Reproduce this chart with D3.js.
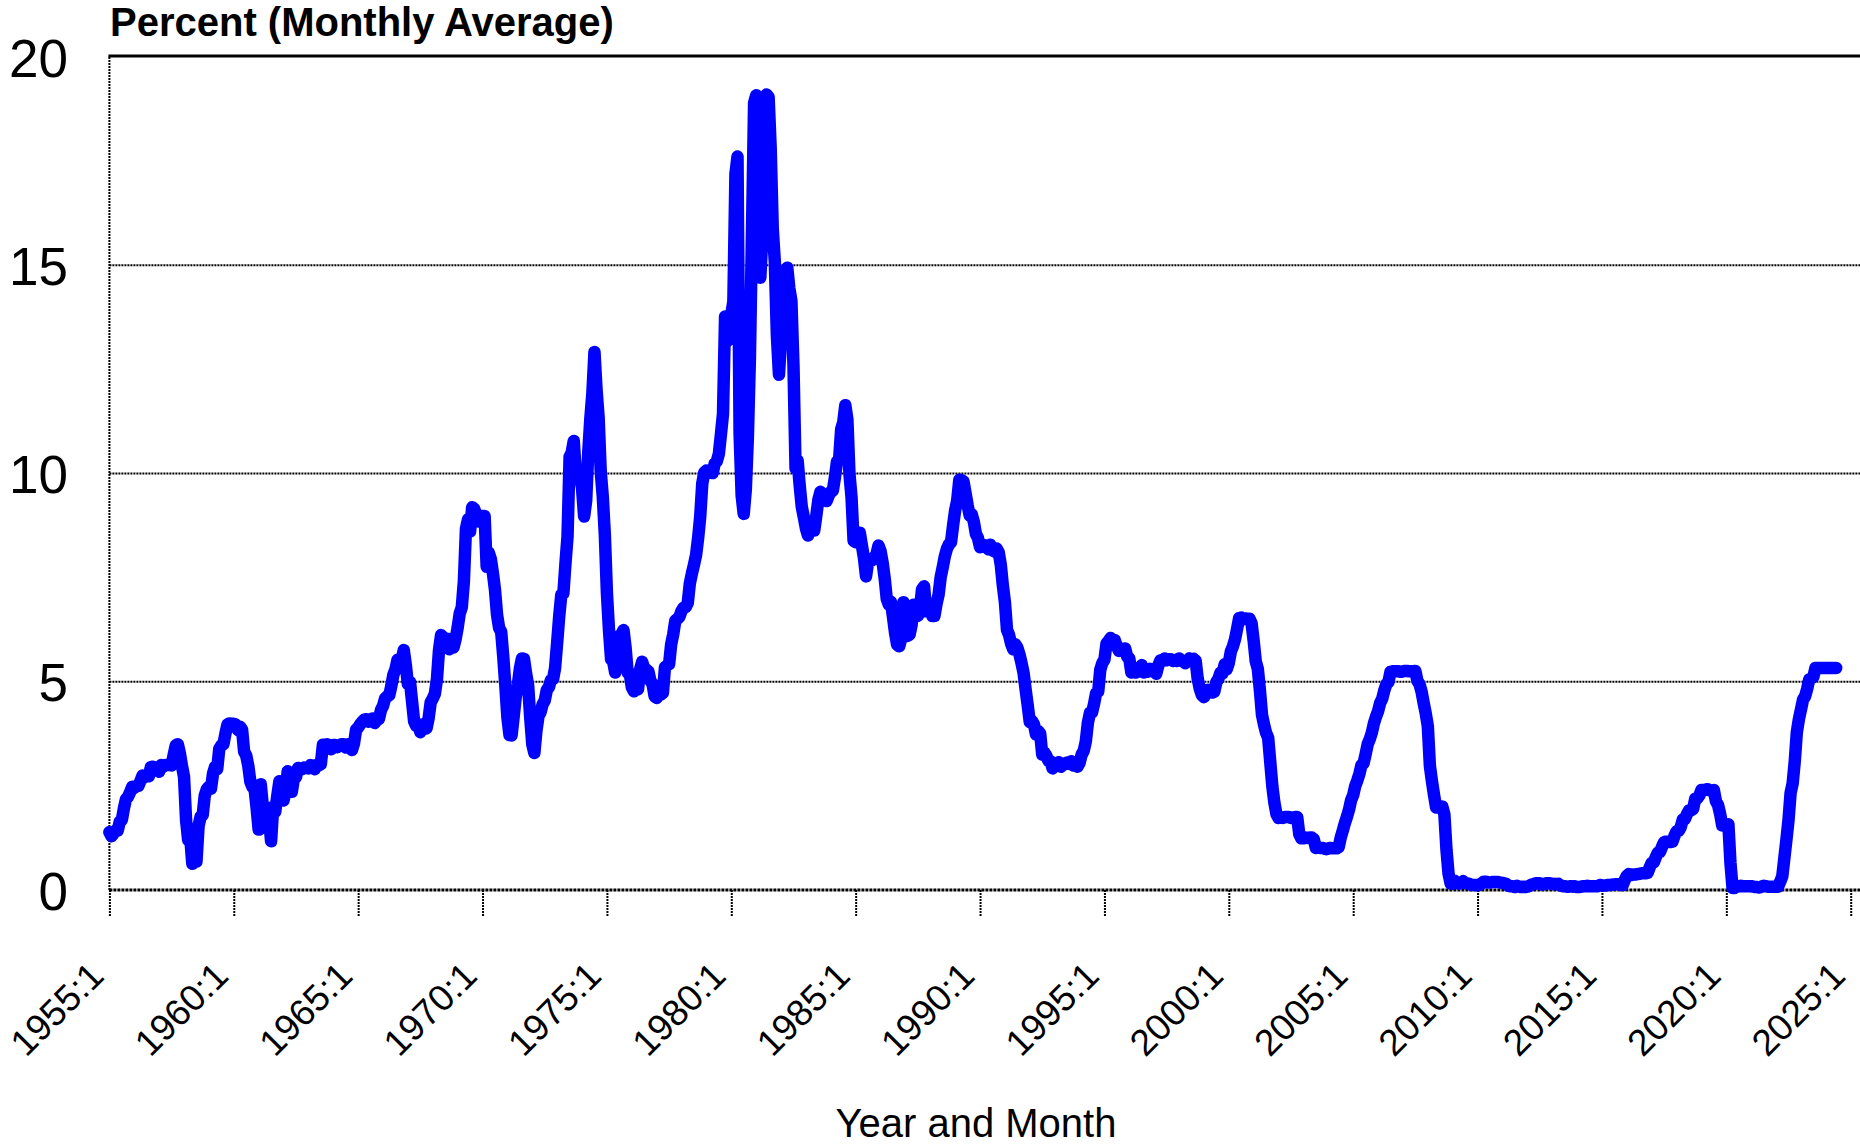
<!DOCTYPE html>
<html>
<head>
<meta charset="utf-8">
<script src="https://cdn.jsdelivr.net/npm/d3@7"></script>
<style>
  html, body { margin: 0; padding: 0; background: #fff; }
  svg { display: block; font-family: "Liberation Sans", Arial, sans-serif; }
</style>
</head>
<body>
<svg id="chart" width="1860" height="1146"></svg>
<script>
// Monthly average federal funds rate, percent, starting 1955:1
const rates1955to1959 = [
  1.39,1.29,1.35,1.43,1.43,1.64,1.68,1.96,2.18,2.24,2.35,2.48,
  2.45,2.50,2.50,2.62,2.75,2.71,2.75,2.73,2.95,2.96,2.88,2.94,
  2.84,3.00,2.96,3.00,3.00,3.00,2.99,3.24,3.47,3.50,3.28,2.98,
  2.72,1.67,1.20,1.26,0.63,0.93,0.68,1.53,1.76,1.80,2.27,2.42,
  2.48,2.43,2.80,2.96,2.90,3.39,3.47,3.50,3.76,3.98,4.00,3.99
];
const rates1960s = [
  3.99,3.97,3.84,3.92,3.85,3.32,3.23,2.98,2.60,2.47,2.44,1.98,
  1.45,2.54,2.02,1.49,1.98,1.73,1.17,2.00,1.88,2.26,2.61,2.33,
  2.15,2.37,2.85,2.78,2.36,2.68,2.71,2.93,2.90,2.90,2.94,2.93,
  2.92,3.00,2.98,2.90,3.00,2.99,3.02,3.49,3.48,3.50,3.48,3.38,
  3.48,3.48,3.43,3.47,3.50,3.50,3.42,3.50,3.45,3.36,3.52,3.85,
  3.90,3.98,4.04,4.09,4.10,4.04,4.09,4.12,4.01,4.08,4.10,4.32,
  4.42,4.60,4.65,4.67,4.90,5.17,5.30,5.53,5.40,5.53,5.76,5.40,
  4.94,5.00,4.53,4.05,3.94,3.98,3.79,3.90,3.99,3.88,4.13,4.51,
  4.60,4.71,5.05,5.76,6.12,6.07,6.03,6.03,5.78,5.91,5.82,6.02,
  6.30,6.64,6.79,7.41,8.67,8.90,8.61,9.19,9.15,9.00,8.85,8.97
];
const rates1970s = [
  8.98,8.98,7.76,8.10,7.95,7.61,7.21,6.61,6.29,6.20,5.60,4.90,
  4.14,3.72,3.71,4.16,4.63,4.91,5.31,5.56,5.55,5.20,4.91,4.14,
  3.50,3.29,3.83,4.17,4.27,4.46,4.55,4.80,4.87,5.04,5.06,5.33,
  5.94,6.58,7.09,7.12,7.84,8.49,10.40,10.50,10.78,10.01,10.03,9.95,
  9.65,8.97,9.35,10.51,11.31,11.93,12.92,12.01,11.34,10.06,9.45,8.53,
  7.13,6.24,5.54,5.49,5.22,5.55,6.10,6.14,6.24,5.82,5.22,5.20,
  4.87,4.77,4.84,4.82,5.29,5.48,5.31,5.29,5.25,5.02,4.95,4.65,
  4.61,4.68,4.69,4.73,5.35,5.39,5.42,5.90,6.14,6.47,6.51,6.56,
  6.70,6.78,6.79,6.89,7.36,7.60,7.81,8.04,8.45,8.96,9.76,10.03,
  10.07,10.06,10.09,10.01,10.24,10.29,10.47,10.94,11.43,13.77,13.18,13.78
];
const rates1980s = [
  13.82,14.13,17.19,17.61,10.98,9.47,9.03,9.61,10.87,12.81,15.85,18.90,
  19.08,15.93,14.70,15.72,18.52,19.10,19.04,17.82,15.87,15.08,13.31,12.37,
  13.22,14.78,14.68,14.94,14.45,14.15,12.59,10.12,10.31,9.71,9.20,8.95,
  8.68,8.51,8.77,8.80,8.63,8.98,9.37,9.56,9.45,9.48,9.34,9.47,
  9.56,9.59,9.91,10.29,10.32,11.06,11.23,11.64,11.30,9.99,9.43,8.38,
  8.35,8.50,8.58,8.27,7.97,7.53,7.88,7.90,7.92,7.99,8.05,8.27,
  8.14,7.86,7.48,6.99,6.85,6.92,6.56,6.17,5.89,5.85,6.04,6.91,
  6.43,6.10,6.13,6.37,6.85,6.73,6.58,6.73,7.22,7.29,6.69,6.77,
  6.83,6.58,6.58,6.87,7.09,7.51,7.75,8.01,8.19,8.30,8.35,8.76,
  9.12,9.36,9.85,9.84,9.81,9.53,9.24,8.99,9.02,8.84,8.55,8.45
];
const rates1990s = [
  8.23,8.24,8.28,8.26,8.18,8.29,8.15,8.13,8.20,8.11,7.81,7.31,
  6.91,6.25,6.12,5.91,5.78,5.90,5.82,5.66,5.45,5.21,4.81,4.43,
  4.03,4.06,3.98,3.73,3.82,3.76,3.25,3.30,3.22,3.10,3.09,2.92,
  3.02,3.03,3.07,2.96,3.00,3.04,3.06,3.03,3.09,2.99,3.02,2.96,
  3.05,3.25,3.34,3.56,4.01,4.25,4.26,4.47,4.73,4.76,5.29,5.45,
  5.53,5.92,5.98,6.05,6.01,6.00,5.85,5.74,5.80,5.76,5.80,5.60,
  5.56,5.22,5.31,5.22,5.24,5.27,5.40,5.22,5.30,5.24,5.31,5.29,
  5.25,5.19,5.39,5.51,5.50,5.56,5.52,5.54,5.54,5.50,5.52,5.50,
  5.56,5.51,5.49,5.45,5.49,5.56,5.54,5.55,5.51,5.07,4.83,4.68,
  4.63,4.76,4.81,4.74,4.74,4.76,4.99,5.07,5.22,5.20,5.42,5.30
];
const rates2000s = [
  5.45,5.73,5.85,6.02,6.27,6.53,6.54,6.50,6.52,6.51,6.51,6.40,
  5.98,5.49,5.31,4.80,4.21,3.97,3.77,3.65,3.07,2.49,2.09,1.82,
  1.73,1.74,1.73,1.75,1.75,1.75,1.73,1.74,1.75,1.75,1.34,1.24,
  1.24,1.26,1.25,1.26,1.26,1.22,1.01,1.03,1.01,1.01,1.00,0.98,
  1.00,1.01,1.00,1.00,1.00,1.03,1.26,1.43,1.61,1.76,1.93,2.16,
  2.28,2.50,2.63,2.79,3.00,3.04,3.26,3.50,3.62,3.78,4.00,4.16,
  4.29,4.49,4.59,4.79,4.94,4.99,5.24,5.25,5.25,5.25,5.25,5.24,
  5.25,5.26,5.26,5.25,5.25,5.25,5.26,5.02,4.94,4.76,4.49,4.24,
  3.94,2.98,2.61,2.28,1.98,2.00,2.01,2.00,1.81,0.97,0.39,0.16,
  0.15,0.22,0.18,0.15,0.18,0.21,0.16,0.16,0.15,0.12,0.12,0.12
];
const rates2010s = [
  0.11,0.13,0.16,0.20,0.20,0.18,0.18,0.19,0.19,0.19,0.19,0.18,
  0.17,0.16,0.14,0.10,0.09,0.09,0.07,0.10,0.08,0.07,0.08,0.07,
  0.08,0.10,0.13,0.14,0.16,0.16,0.16,0.13,0.14,0.16,0.16,0.16,
  0.14,0.15,0.14,0.15,0.11,0.09,0.09,0.08,0.08,0.09,0.08,0.09,
  0.07,0.07,0.08,0.09,0.09,0.10,0.09,0.09,0.09,0.09,0.09,0.12,
  0.11,0.11,0.11,0.12,0.12,0.13,0.13,0.14,0.14,0.12,0.12,0.24,
  0.34,0.38,0.36,0.37,0.37,0.38,0.39,0.40,0.40,0.40,0.41,0.54,
  0.65,0.66,0.79,0.90,0.91,1.04,1.15,1.16,1.15,1.15,1.16,1.30,
  1.41,1.42,1.51,1.69,1.70,1.82,1.91,1.91,1.95,2.19,2.20,2.27,
  2.40,2.40,2.41,2.42,2.39,2.38,2.40,2.13,2.04,1.83,1.55,1.55
];
const rates2020to2024 = [
  1.55,1.58,0.65,0.05,0.05,0.08,0.09,0.10,0.09,0.09,0.09,0.09,
  0.09,0.08,0.07,0.07,0.06,0.08,0.10,0.09,0.08,0.08,0.08,0.08,
  0.08,0.08,0.20,0.33,0.77,1.21,1.68,2.33,2.56,3.08,3.78,4.10,
  4.33,4.57,4.65,4.83,5.06,5.08,5.12,5.33,5.33,5.33,5.33,5.33,
  5.33,5.33,5.33,5.33,5.33,5.33
];
const startYear = 1955;
const xTickYears = [1955,1960,1965,1970,1975,1980,1985,1990,1995,2000,2005,2010,2015,2020,2025];
const yTickValues = [0,5,10,15,20];
const titleText = "Percent (Monthly Average)";
const xAxisTitle = "Year and Month";

const rates = [].concat(rates1955to1959, rates1960s, rates1970s, rates1980s,
                        rates1990s, rates2000s, rates2010s, rates2020to2024);
const data = rates.map((v, i) => ({ i, v }));

const svg = d3.select("#chart");
const plotLeft = 109.4, plotRight = 1860;
const x = d3.scaleLinear().domain([0, 840]).range([109.4, 1850.7]);
const y = d3.scaleLinear().domain([0, 20]).range([890, 57]);

// gridlines 5,10,15
svg.append("g").selectAll("line")
  .data(yTickValues.filter(v => v > 0 && v < 20))
  .join("line")
  .attr("x1", plotLeft).attr("x2", plotRight)
  .attr("y1", d => y(d)).attr("y2", d => y(d))
  .attr("stroke", "#000").attr("stroke-width", 2)
  .attr("stroke-dasharray", "2,1");

// top border
svg.append("line")
  .attr("x1", plotLeft - 1).attr("x2", plotRight)
  .attr("y1", y(20) - 1).attr("y2", y(20) - 1)
  .attr("stroke", "#000").attr("stroke-width", 3);

// left axis line
svg.append("line")
  .attr("x1", plotLeft).attr("x2", plotLeft)
  .attr("y1", y(20)).attr("y2", y(0))
  .attr("stroke", "#000").attr("stroke-width", 2)
  .attr("stroke-dasharray", "2,1");

// x axis ticks and labels
const xAxis = d3.axisBottom(x)
  .tickValues(xTickYears.map(yr => (yr - startYear) * 12))
  .tickSize(26)
  .tickFormat(d => (startYear + d / 12) + ":1");
const gx = svg.append("g").attr("transform", `translate(0,${y(0)})`).call(xAxis);
gx.select(".domain").remove();
gx.selectAll(".tick line")
  .attr("stroke", "#000").attr("stroke-width", 2)
  .attr("stroke-dasharray", "2,1");
gx.selectAll(".tick text")
  .attr("fill", "#000")
  .attr("font-size", 37)
  .attr("font-family", "'Liberation Sans', Arial, sans-serif")
  .attr("text-anchor", "end")
  .attr("dy", null)
  .attr("y", null)
  .attr("transform", "translate(-4,88) rotate(-45)");

// bottom axis line
svg.append("line")
  .attr("x1", plotLeft).attr("x2", plotRight)
  .attr("y1", y(0)).attr("y2", y(0))
  .attr("stroke", "#000").attr("stroke-width", 3)
  .attr("stroke-dasharray", "3,1");

// y axis labels
const yAxis = d3.axisLeft(y).tickValues(yTickValues).tickSize(0).tickPadding(0).tickFormat(d3.format("d"));
const gy = svg.append("g").attr("transform", `translate(68,0)`).call(yAxis);
gy.select(".domain").remove();
gy.selectAll(".tick text")
  .attr("fill", "#000")
  .attr("font-size", 53)
  .attr("font-family", "'Liberation Sans', Arial, sans-serif")
  .attr("x", 0)
  .attr("dy", "0.36em");

// data line
const line = d3.line().x(d => x(d.i)).y(d => y(d.v));
svg.append("path")
  .datum(data)
  .attr("d", line)
  .attr("fill", "none")
  .attr("stroke", "#0000FF")
  .attr("stroke-width", 12.5)
  .attr("stroke-linejoin", "round")
  .attr("stroke-linecap", "round");

// title
svg.append("text")
  .attr("x", 110).attr("y", 36)
  .attr("font-size", 40).attr("font-weight", "bold")
  .attr("fill", "#000")
  .text(titleText);

// x axis title
svg.append("text")
  .attr("x", 976).attr("y", 1137)
  .attr("text-anchor", "middle")
  .attr("font-size", 40)
  .attr("fill", "#000")
  .text(xAxisTitle);
</script>
</body>
</html>
